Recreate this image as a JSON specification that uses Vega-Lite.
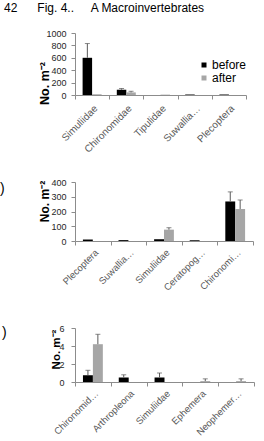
{
  "$schema": "https://vega.github.io/schema/vega-lite/v6.json",
  "padding": {"left": 0, "top": 2, "right": 0, "bottom": 0},
  "bounds": "flush",
  "spacing": 87,
  "title": {
    "text": "42\u00a0\u00a0\u00a0\u00a0\u00a0\u00a0Fig. 4..\u00a0\u00a0\u00a0\u00a0\u00a0A Macroinvertebrates",
    "anchor": "start",
    "frame": "group",
    "dx": -71,
    "offset": 14,
    "font": "Liberation Sans",
    "fontSize": 12,
    "fontWeight": "normal",
    "color": "#000000"
  },
  "resolve": {
    "scale": {"x": "independent", "y": "independent", "xOffset": "independent", "color": "independent"},
    "axis": {"x": "independent", "y": "independent"},
    "legend": {"color": "independent"}
  },
  "config": {
    "font": "Liberation Sans",
    "view": {"stroke": null},
    "axis": {
      "grid": false,
      "domainColor": "#8c8c8c",
      "tickColor": "#8c8c8c",
      "labelFont": "Liberation Sans",
      "titleFont": "Liberation Sans"
    },
    "axisX": {
      "labelAngle": -45,
      "labelFontSize": 9.5,
      "labelColor": "#595959",
      "tickBand": "extent",
      "tickSize": 4,
      "title": null
    },
    "axisY": {
      "labelFontSize": 9,
      "labelColor": "#262626",
      "tickSize": 4,
      "labelPadding": 5,
      "labelOverlap": false,
      "format": "d",
      "titleFontWeight": "bold",
      "titleColor": "#000000",
      "titleAngle": -90
    },
    "title": {"font": "Liberation Sans"}
  },
  "datasets": {
    "before_after_a": [
      {"cat": "Simuliidae", "grp": "before", "v": 600, "hi": 830},
      {"cat": "Simuliidae", "grp": "after", "v": 12, "hi": null},
      {"cat": "Chironomidae", "grp": "before", "v": 85, "hi": 105},
      {"cat": "Chironomidae", "grp": "after", "v": 42, "hi": 60},
      {"cat": "Tipulidae", "grp": "before", "v": 0, "hi": null},
      {"cat": "Tipulidae", "grp": "after", "v": 6, "hi": null},
      {"cat": "Suwallia…", "grp": "before", "v": 8, "hi": null},
      {"cat": "Suwallia…", "grp": "after", "v": 0, "hi": null},
      {"cat": "Plecoptera", "grp": "before", "v": 8, "hi": null},
      {"cat": "Plecoptera", "grp": "after", "v": 0, "hi": null}
    ],
    "before_after_b": [
      {"cat": "Plecoptera", "grp": "before", "v": 10, "hi": null},
      {"cat": "Plecoptera", "grp": "after", "v": 0, "hi": null},
      {"cat": "Suwallia…", "grp": "before", "v": 6, "hi": null},
      {"cat": "Suwallia…", "grp": "after", "v": 0, "hi": null},
      {"cat": "Simuliidae", "grp": "before", "v": 12, "hi": null},
      {"cat": "Simuliidae", "grp": "after", "v": 77, "hi": 90},
      {"cat": "Ceratopog…", "grp": "before", "v": 5, "hi": null},
      {"cat": "Ceratopog…", "grp": "after", "v": 0, "hi": null},
      {"cat": "Chironomi…", "grp": "before", "v": 268, "hi": 333},
      {"cat": "Chironomi…", "grp": "after", "v": 217, "hi": 278}
    ],
    "before_after_c": [
      {"cat": "Chironomid…", "grp": "before", "v": 0.75, "hi": 1.3},
      {"cat": "Chironomid…", "grp": "after", "v": 4.2, "hi": 5.3},
      {"cat": "Arthropleona", "grp": "before", "v": 0.5, "hi": 0.8},
      {"cat": "Arthropleona", "grp": "after", "v": 0, "hi": null},
      {"cat": "Simuliidae", "grp": "before", "v": 0.5, "hi": 1.0},
      {"cat": "Simuliidae", "grp": "after", "v": 0, "hi": null},
      {"cat": "Ephemera", "grp": "before", "v": 0, "hi": null},
      {"cat": "Ephemera", "grp": "after", "v": 0.1, "hi": 0.35},
      {"cat": "Neophemer…", "grp": "before", "v": 0, "hi": null},
      {"cat": "Neophemer…", "grp": "after", "v": 0.1, "hi": 0.35}
    ]
  },
  "vconcat": [
    {
      "width": 171,
      "height": 62,
      "data": {"name": "before_after_a"},
      "encoding": {
        "x": {"field": "cat", "type": "nominal", "sort": null, "scale": {"paddingInner": 0, "paddingOuter": 0}, "axis": {"labelFontSize": 10, "labelPadding": 4}},
        "xOffset": {"field": "grp", "type": "nominal", "sort": ["before", "after"], "scale": {"paddingInner": 0, "paddingOuter": 0.8}}
      },
      "layer": [
        {
          "mark": {"type": "bar"},
          "encoding": {
            "y": {"field": "v", "type": "quantitative", "title": "No. m⁻²",
              "scale": {"domain": [0, 1000], "nice": false},
              "axis": {"values": [0, 200, 400, 600, 800, 1000], "titleFontSize": 12.5, "titleX": -24, "titleY": 50}},
            "color": {"field": "grp", "type": "nominal",
              "scale": {"domain": ["before", "after"], "range": ["#000000", "#a6a6a6"]},
              "legend": {"orient": "none", "legendX": 123, "legendY": 26, "title": null, "symbolType": "square", "symbolSize": 25, "symbolStrokeWidth": 0, "labelFontSize": 12, "labelColor": "#000000", "labelOffset": 2, "rowPadding": 1}}
          }
        },
        {
          "transform": [{"filter": "datum.hi != null"}],
          "mark": {"type": "rule", "color": "#595959", "strokeWidth": 1},
          "encoding": {
            "y": {"field": "v", "type": "quantitative", "title": "No. m⁻²",
              "axis": {"values": [0, 200, 400, 600, 800, 1000], "titleFontSize": 12.5, "titleX": -24, "titleY": 50}},
            "y2": {"field": "hi"}
          }
        },
        {
          "transform": [{"filter": "datum.hi != null"}],
          "mark": {"type": "tick", "color": "#595959", "thickness": 1, "size": 5},
          "encoding": {
            "y": {"field": "hi", "type": "quantitative", "title": "No. m⁻²",
              "axis": {"values": [0, 200, 400, 600, 800, 1000], "titleFontSize": 12.5, "titleX": -24, "titleY": 50}}
          }
        }
      ]
    },
    {
      "width": 178,
      "height": 59,
      "data": {"name": "before_after_b"},
      "title": {"text": ")", "anchor": "start", "frame": "group", "dx": -75, "dy": 18, "offset": 0, "fontSize": 14, "fontWeight": "normal", "color": "#000000"},
      "encoding": {
        "x": {"field": "cat", "type": "nominal", "sort": null, "scale": {"paddingInner": 0, "paddingOuter": 0}},
        "xOffset": {"field": "grp", "type": "nominal", "sort": ["before", "after"], "scale": {"paddingInner": 0, "paddingOuter": 0.8}}
      },
      "layer": [
        {
          "mark": {"type": "bar"},
          "encoding": {
            "y": {"field": "v", "type": "quantitative", "title": "No. m⁻²",
              "scale": {"domain": [0, 400], "nice": false},
              "axis": {"values": [0, 100, 200, 300, 400], "titleFontSize": 12, "titleX": -24, "titleY": 19}},
            "color": {"field": "grp", "type": "nominal",
              "scale": {"domain": ["before", "after"], "range": ["#000000", "#a6a6a6"]},
              "legend": null}
          }
        },
        {
          "transform": [{"filter": "datum.hi != null"}],
          "mark": {"type": "rule", "color": "#595959", "strokeWidth": 1},
          "encoding": {
            "y": {"field": "v", "type": "quantitative", "title": "No. m⁻²",
              "axis": {"values": [0, 100, 200, 300, 400], "titleFontSize": 12, "titleX": -24, "titleY": 19}},
            "y2": {"field": "hi"}
          }
        },
        {
          "transform": [{"filter": "datum.hi != null"}],
          "mark": {"type": "tick", "color": "#595959", "thickness": 1, "size": 5},
          "encoding": {
            "y": {"field": "hi", "type": "quantitative", "title": "No. m⁻²",
              "axis": {"values": [0, 100, 200, 300, 400], "titleFontSize": 12, "titleX": -24, "titleY": 19}}
          }
        }
      ]
    },
    {
      "width": 179,
      "height": 54,
      "data": {"name": "before_after_c"},
      "title": {"text": ")", "anchor": "start", "frame": "group", "dx": -73, "dy": 16, "offset": 0, "fontSize": 14, "fontWeight": "normal", "color": "#000000"},
      "encoding": {
        "x": {"field": "cat", "type": "nominal", "sort": null, "scale": {"paddingInner": 0, "paddingOuter": 0}},
        "xOffset": {"field": "grp", "type": "nominal", "sort": ["before", "after"], "scale": {"paddingInner": 0, "paddingOuter": 0.8}}
      },
      "layer": [
        {
          "mark": {"type": "bar"},
          "encoding": {
            "y": {"field": "v", "type": "quantitative", "title": "No. m⁻²",
              "scale": {"domain": [0, 6], "nice": false},
              "axis": {"values": [0, 2, 4, 6], "labelPadding": 7, "titleFontSize": 11.5, "titleX": -14, "titleY": 21}},
            "color": {"field": "grp", "type": "nominal",
              "scale": {"domain": ["before", "after"], "range": ["#000000", "#a6a6a6"]},
              "legend": null}
          }
        },
        {
          "transform": [{"filter": "datum.hi != null"}],
          "mark": {"type": "rule", "color": "#595959", "strokeWidth": 1},
          "encoding": {
            "y": {"field": "v", "type": "quantitative", "title": "No. m⁻²",
              "axis": {"values": [0, 2, 4, 6], "labelPadding": 7, "titleFontSize": 11.5, "titleX": -14, "titleY": 21}},
            "y2": {"field": "hi"}
          }
        },
        {
          "transform": [{"filter": "datum.hi != null"}],
          "mark": {"type": "tick", "color": "#595959", "thickness": 1, "size": 5},
          "encoding": {
            "y": {"field": "hi", "type": "quantitative", "title": "No. m⁻²",
              "axis": {"values": [0, 2, 4, 6], "labelPadding": 7, "titleFontSize": 11.5, "titleX": -14, "titleY": 21}}
          }
        }
      ]
    }
  ]
}
